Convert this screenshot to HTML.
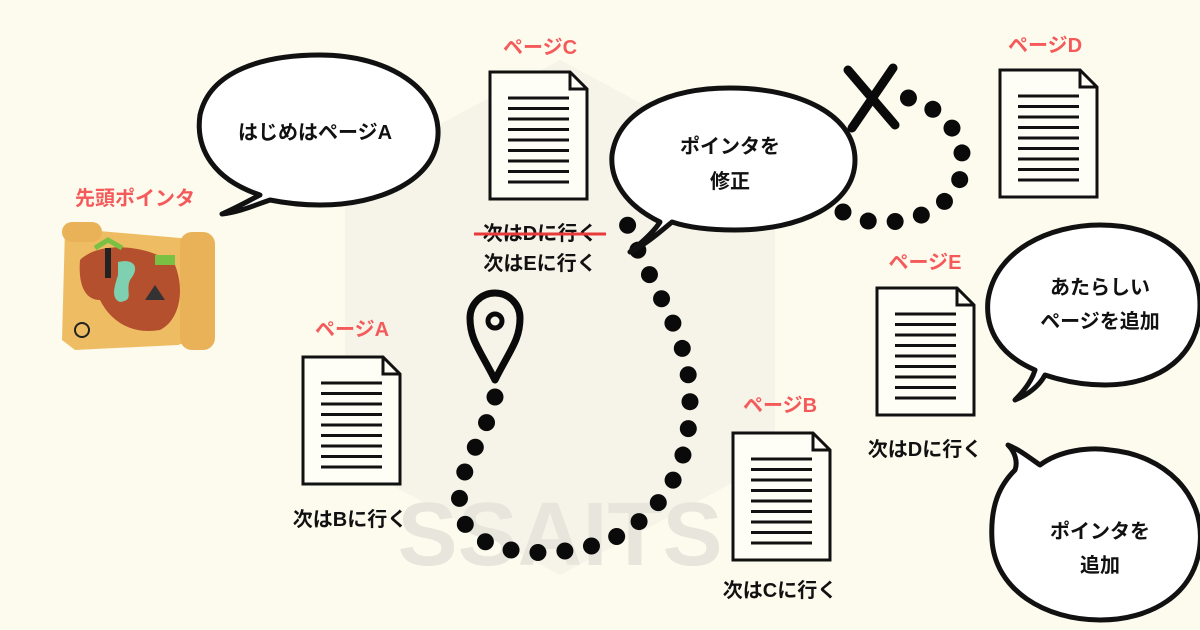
<!DOCTYPE html>
<html><head><meta charset="utf-8"><style>
body{margin:0;background:#fdfbee;}
svg{display:block}
text{font-family:"Liberation Sans","Noto Sans CJK JP",sans-serif;font-weight:bold}
</style></head><body>
<svg width="1200" height="630" viewBox="0 0 1200 630" xmlns="http://www.w3.org/2000/svg">
<rect width="1200" height="630" fill="#fdfbee"/>
<polygon points="560,60 775,175 775,460 560,575 345,460 345,175" fill="#efece2" opacity="0.5"/>
<text x="560" y="565" font-size="90" fill="#e8e6dc" text-anchor="middle" font-weight="normal">SSAITS</text>
<defs>
<g id="doc">
<path d="M0,0 H80 L97,17 V127 H0 Z" fill="#fefdf6" stroke="#111" stroke-width="3"/>
<path d="M80,0 V17 H97" fill="none" stroke="#111" stroke-width="3"/>
<g stroke="#111" stroke-width="3">
<line x1="18" y1="26" x2="79" y2="26"/><line x1="18" y1="36.5" x2="79" y2="36.5"/><line x1="18" y1="47" x2="79" y2="47"/><line x1="18" y1="57.5" x2="79" y2="57.5"/><line x1="18" y1="68" x2="79" y2="68"/><line x1="18" y1="78.5" x2="79" y2="78.5"/><line x1="18" y1="89" x2="79" y2="89"/><line x1="18" y1="99.5" x2="79" y2="99.5"/><line x1="18" y1="110" x2="79" y2="110"/>
</g></g>
</defs>
<use href="#doc" x="303" y="357"/>
<use href="#doc" x="490" y="72"/>
<use href="#doc" x="1000" y="70"/>
<use href="#doc" x="877" y="288"/>
<use href="#doc" x="733" y="433"/>
<g fill="none" stroke="#0a0a0a" stroke-width="17" stroke-linecap="round" stroke-dasharray="0 27">
<path d="M495,397 C485,440 455,470 460,510 C468,560 560,560 610,540 C670,510 690,460 690,400 C690,330 650,290 625,218"/>
<path d="M843,212 C870,230 930,225 955,190 C975,155 955,110 905,97"/>
</g>
<g stroke="#0a0a0a" stroke-width="9" stroke-linecap="round"><line x1="848" y1="70" x2="895" y2="125"/><line x1="893" y1="68" x2="852" y2="128"/></g>
<path d="M495,380 C480,350 470,340 470,318 A25,25 0 0 1 520,318 C520,340 510,350 495,380 Z" fill="none" stroke="#0a0a0a" stroke-width="7" stroke-linejoin="round"/>
<circle cx="495" cy="321" r="7" fill="none" stroke="#0a0a0a" stroke-width="5"/>
<g fill="#fff" stroke="#111" stroke-width="5" stroke-linejoin="round">
<path d="M260,195 C215,180 195,150 200,115 C210,70 265,55 320,55 C390,55 440,90 438,135 C436,180 380,205 320,205 C300,205 285,203 270,200 C255,205 240,212 222,214 C238,207 250,200 260,195 Z"/>
<path d="M660,222 C625,205 610,180 612,155 C618,110 670,88 730,88 C800,88 855,115 855,160 C855,205 800,230 735,230 C710,230 690,228 672,222 C660,232 645,245 630,252 C645,240 655,230 660,222 Z"/>
<path d="M1035,370 C1000,355 985,330 988,300 C995,250 1050,225 1100,225 C1160,225 1200,255 1200,305 C1200,355 1160,385 1105,385 C1080,385 1060,380 1045,375 C1040,385 1028,395 1015,400 C1025,390 1032,380 1035,370 Z"/>
<path d="M1040,465 C1060,450 1090,447 1110,450 C1165,455 1205,495 1200,545 C1195,595 1150,620 1100,620 C1045,620 995,590 992,540 C990,505 1000,485 1015,470 C1018,462 1015,452 1008,445 C1020,450 1030,458 1040,465 Z"/>
</g>
<g>
<path d="M65,228 L180,238 L195,240 L210,238 L208,335 L178,345 L75,350 L62,340 Z" fill="#eebd63"/>
<rect x="62" y="222" width="40" height="20" rx="10" fill="#e9b258"/>
<rect x="180" y="232" width="35" height="118" rx="12" fill="#e9b258"/>
<path d="M80,260 C100,240 150,245 175,265 C185,290 180,320 160,330 C130,335 110,320 100,300 C85,300 78,285 80,260 Z" fill="#b5502f"/>
<path d="M118,262 C135,258 140,268 130,280 C125,292 135,300 120,302 C110,298 115,285 118,275 Z" fill="#7fd0b0"/>
<path d="M95,248 L108,240 L122,248" stroke="#7ac043" stroke-width="5" fill="none"/>
<rect x="105" y="248" width="6" height="30" fill="#222"/>
<path d="M145,300 L155,285 L165,300 Z" fill="#333"/>
<path d="M155,265 h20 v-10 h-20 z" fill="#7ac043"/>
<circle cx="82" cy="330" r="7" fill="none" stroke="#222" stroke-width="2"/>
</g>
<g fill="#f55a5a" font-size="20" text-anchor="middle">
<text x="135" y="205">先頭ポインタ</text>
<text x="540" y="54">ページC</text>
<text x="1045" y="52">ページD</text>
<text x="925" y="269">ページE</text>
<text x="352" y="336">ページA</text>
<text x="780" y="412">ページB</text>
</g>
<g fill="#111" font-size="20" text-anchor="middle">
<text x="315" y="139">はじめはページA</text>
<text x="730" y="153">ポインタを</text>
<text x="730" y="188">修正</text>
<text x="1100" y="294">あたらしい</text>
<text x="1100" y="328">ページを追加</text>
<text x="1100" y="538">ポインタを</text>
<text x="1100" y="572">追加</text>
<text x="350" y="526">次はBに行く</text>
<text x="780" y="597">次はCに行く</text>
<text x="925" y="456">次はDに行く</text>
<text x="540" y="240">次はDに行く</text>
<text x="540" y="270">次はEに行く</text>
</g>
<line x1="474" y1="234" x2="606" y2="234" stroke="#e83a3a" stroke-width="3"/>
</svg>
</body></html>
